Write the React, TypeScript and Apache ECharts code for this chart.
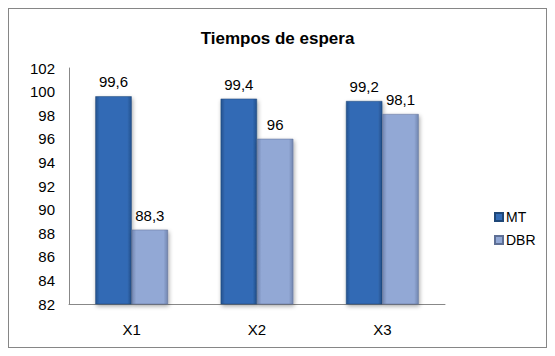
import React, { useEffect, useRef } from "react";
import * as echarts from "echarts";

const categories = ["X1", "X2", "X3"];
const mtValues = [99.6, 99.4, 99.2];
const dbrValues = [88.3, 96, 98.1];
const seriesNames = ["MT", "DBR"];
const titleText = "Tiempos de espera";

const fmt = (v: number) => String(v).replace(".", ",");

export default function App() {
  const ref = useRef<HTMLDivElement>(null);
  useEffect(() => {
    if (!ref.current) return;
    const chart = echarts.init(ref.current, null, { renderer: "svg" });
    const grad = (edge: string, mid: string) =>
      new echarts.graphic.LinearGradient(0, 0, 1, 0, [
        { offset: 0, color: edge },
        { offset: 0.12, color: mid },
        { offset: 0.88, color: mid },
        { offset: 1, color: edge },
      ]);
    const font = "Liberation Sans, Arial, sans-serif";
    chart.setOption({
      animation: false,
      textStyle: { fontFamily: font },
      title: {
        text: titleText,
        left: "center",
        top: 16,
        textStyle: { fontSize: 17, fontWeight: "bold", color: "#000", fontFamily: font },
      },
      legend: {
        orient: "vertical",
        left: 480,
        top: 196,
        itemWidth: 8,
        itemHeight: 8,
        itemGap: 9,
        icon: "rect",
        textStyle: { fontSize: 14, color: "#000", fontFamily: font, padding: [0, 0, 0, -2] },
        data: seriesNames,
      },
      grid: { left: 60, right: 101, top: 59, bottom: 43 },
      xAxis: {
        type: "category",
        data: categories,
        axisLine: { lineStyle: { color: "#888" } },
        axisTick: { show: false },
        axisLabel: { fontSize: 15, color: "#000", margin: 18, fontFamily: font },
      },
      yAxis: {
        type: "value",
        min: 82,
        max: 102,
        interval: 2,
        splitLine: { show: false },
        axisLine: { show: true, lineStyle: { color: "#888" } },
        axisTick: { show: false },
        axisLabel: { fontSize: 15, color: "#000", margin: 14, fontFamily: font },
      },
      series: [
        {
          name: seriesNames[0],
          type: "bar",
          data: mtValues,
          barGap: "0%",
          barCategoryGap: "42%",
          itemStyle: {
            color: grad("#24528f", "#336bb5"),
            borderColor: "#1f4777",
            borderWidth: 0.5,
            shadowColor: "rgba(0,0,0,0.35)",
            shadowBlur: 4,
            shadowOffsetX: 1,
            shadowOffsetY: 2,
          },
          label: {
            show: true,
            position: "top",
            distance: 7,
            fontSize: 15,
            color: "#000",
            fontFamily: font,
            formatter: (p: any) => fmt(p.value),
          },
        },
        {
          name: seriesNames[1],
          type: "bar",
          data: dbrValues,
          itemStyle: {
            color: grad("#7286b0", "#92a8d5"),
            borderColor: "#5e6f95",
            borderWidth: 0.5,
            shadowColor: "rgba(0,0,0,0.35)",
            shadowBlur: 4,
            shadowOffsetX: 1,
            shadowOffsetY: 2,
          },
          label: {
            show: true,
            position: "top",
            distance: 7,
            fontSize: 15,
            color: "#000",
            fontFamily: font,
            formatter: (p: any) => fmt(p.value),
          },
        },
      ],
    });
    return () => chart.dispose();
  }, []);
  return (
    <div
      style={{
        width: 539,
        height: 340,
        border: "1px solid #868686",
        boxSizing: "border-box",
        background: "#fff",
      }}
    >
      <div ref={ref} style={{ width: 537, height: 338 }} />
    </div>
  );
}
